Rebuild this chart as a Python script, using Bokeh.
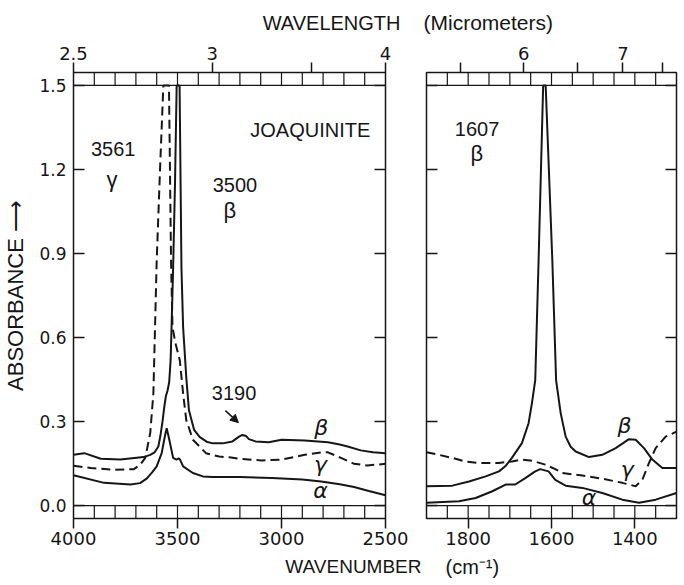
import numpy as np
from bokeh.plotting import figure
from bokeh.layouts import row
from bokeh.models import (Range1d, LinearAxis, FixedTicker, CustomJSTickFormatter,
                          Arrow, NormalHead, Span, NumeralTickFormatter, Title)
from bokeh.embed import file_html
from bokeh.resources import INLINE
from bokeh.core.properties import value

# ---------------- data ----------------
# Left panel: 4000-2500 cm-1
L_beta_wn = [4000, 3948, 3869, 3774, 3663, 3631, 3610, 3592, 3582, 3571, 3564, 3556, 3548, 3540,
             3533, 3527, 3521, 3512, 3504, 3490, 3481, 3473, 3458, 3445, 3420, 3394, 3360, 3331,
             3283, 3236, 3204, 3188, 3170, 3157, 3125, 3062, 2999, 2888, 2777, 2720, 2682, 2619,
             2560, 2500]
L_beta = [0.181, 0.187, 0.167, 0.164, 0.173, 0.181, 0.19, 0.211, 0.25, 0.306, 0.35, 0.39, 0.41, 0.44,
          0.52, 0.68, 0.85, 1.15, 1.5, 1.5, 0.85, 0.637, 0.46, 0.34, 0.27, 0.245, 0.228, 0.222,
          0.222, 0.229, 0.246, 0.252, 0.248, 0.237, 0.229, 0.226, 0.235, 0.232, 0.226, 0.218, 0.211, 0.197,
          0.19, 0.187]

L_gamma_wn = [4000, 3916, 3805, 3710, 3679, 3655, 3631, 3616, 3608, 3600, 3584, 3568, 3541, 3531,
              3524, 3510, 3489, 3473, 3458, 3426, 3363, 3300, 3250, 3188, 3094, 2999, 2888, 2809,
              2777, 2745, 2714, 2651, 2587, 2500]
L_gamma = [0.142, 0.134, 0.128, 0.13, 0.146, 0.17, 0.259, 0.40, 0.637, 0.875, 1.2, 1.5, 1.5, 0.87,
           0.637, 0.58, 0.519, 0.40, 0.306, 0.235, 0.187, 0.175, 0.172, 0.166, 0.161, 0.164, 0.181, 0.19,
           0.19, 0.18, 0.17, 0.149, 0.143, 0.149]

L_alpha_wn = [4000, 3853, 3726, 3680, 3647, 3620, 3600, 3576, 3560, 3552, 3544, 3536, 3521, 3505,
              3495, 3489, 3473, 3426, 3378, 3331, 3200, 3046, 2900, 2809, 2720, 2651, 2580, 2500]
L_alpha = [0.108, 0.081, 0.075, 0.08, 0.097, 0.12, 0.14, 0.187, 0.25, 0.276, 0.25, 0.223, 0.17, 0.164,
           0.168, 0.166, 0.14, 0.116, 0.104, 0.102, 0.102, 0.098, 0.093, 0.086, 0.076, 0.066, 0.052, 0.037]

# Right panel: 1900-1300 cm-1
R_beta_wn = [1900, 1838, 1798, 1758, 1726, 1711, 1695, 1671, 1655, 1647, 1639, 1631, 1620, 1614,
             1598, 1589, 1578, 1566, 1554, 1542, 1510, 1478, 1446, 1414, 1398, 1378, 1358, 1334, 1300]
R_beta = [0.069, 0.071, 0.086, 0.104, 0.122, 0.14, 0.17, 0.223, 0.294, 0.365, 0.448, 0.875, 1.5, 1.5,
          0.875, 0.448, 0.33, 0.246, 0.21, 0.193, 0.173, 0.181, 0.205, 0.237, 0.235, 0.205, 0.164, 0.134, 0.134]

R_gamma_wn = [1900, 1870, 1838, 1806, 1774, 1727, 1695, 1671, 1647, 1615, 1591, 1574, 1526, 1478,
              1430, 1398, 1382, 1366, 1350, 1326, 1300]
R_gamma = [0.19, 0.181, 0.17, 0.157, 0.152, 0.152, 0.157, 0.164, 0.16, 0.146, 0.13, 0.116, 0.107, 0.096,
           0.081, 0.069, 0.092, 0.152, 0.205, 0.246, 0.264]

R_alpha_wn = [1900, 1822, 1782, 1742, 1710, 1687, 1663, 1639, 1627, 1607, 1591, 1566, 1526, 1478,
              1430, 1390, 1350, 1300]
R_alpha = [0.01, 0.015, 0.027, 0.051, 0.075, 0.075, 0.098, 0.122, 0.13, 0.122, 0.092, 0.071, 0.063, 0.045,
           0.021, 0.01, 0.021, 0.045]

# axes
Y_TICKS = [0.0, 0.3, 0.6, 0.9, 1.2, 1.5]
L_WN_TICKS = [4000, 3500, 3000, 2500]
R_WN_TICKS = [1800, 1600, 1400]
L_WL_TICKS = [2.5, 3.0, 3.5, 4.0]
L_WL_LABELS = ["2.5", "3", "", "4"]
R_WL_TICKS = [5.5, 6.0, 6.5, 7.0, 7.5]
R_WL_LABELS = ["", "6", "", "7", ""]

# annotations (label text, wavenumber, absorbance of the label centre)
L_notes = ["3561", "3500", "3190", "JOAQUINITE"]
L_notes_x = [3916, 3331, 3335, 3150]
L_notes_y = [1.272, 1.143, 0.401, 1.340]
L_greek = ["γ", "β"]
L_greek_x = [3815, 3248]
L_greek_y = [1.166, 1.054]
R_notes = ["1607"]
R_notes_x = [1832]
R_notes_y = [1.343]
R_greek = ["β"]
R_greek_x = [1779]
R_greek_y = [1.256]
L_curve_lbl = ["β", "γ", "α"]
L_curve_lbl_x = [2809, 2813, 2813]
L_curve_lbl_y = [0.279, 0.148, 0.052]
R_curve_lbl = ["β", "γ", "α"]
R_curve_lbl_x = [1425, 1418, 1510]
R_curve_lbl_y = [0.286, 0.128, 0.028]

INK = "#161616"
TICK_FONT = "DejaVu Sans"
TXT_FONT = "Liberation Sans"
Y0, Y1 = -0.0463, 1.5463
H = 585


def panel(xr, width, mbl, mbr, cell_step, wn_ticks, wl_ticks, wl_labels, show_ylabels):
    p = figure(width=width, height=H, x_range=Range1d(*xr), y_range=Range1d(Y0, Y1),
               output_backend="svg", toolbar_location=None,
               min_border_left=mbl, min_border_right=mbr, min_border_top=72, min_border_bottom=65)
    p.grid.visible = False
    p.outline_line_color = INK
    p.outline_line_width = 1.5
    p.background_fill_color = "white"
    p.border_fill_color = "white"

    xa = p.xaxis[0]
    xa.ticker = FixedTicker(ticks=wn_ticks)
    xa.major_tick_in = 0
    xa.major_tick_out = 10
    xa.minor_tick_line_color = None
    xa.axis_line_color = None
    xa.major_tick_line_color = INK
    xa.major_tick_line_width = 1.5
    xa.major_label_standoff = 3
    xa.major_label_text_font = TICK_FONT
    xa.major_label_text_font_size = "18px"
    xa.major_label_text_color = INK

    ya = p.yaxis[0]
    ya.ticker = FixedTicker(ticks=Y_TICKS)
    ya.major_tick_in = 11
    ya.major_tick_out = 0
    ya.minor_tick_line_color = None
    ya.axis_line_color = None
    ya.major_tick_line_color = INK
    ya.major_tick_line_width = 1.5
    ya.major_label_text_font = TICK_FONT
    ya.major_label_text_font_size = "17px"
    ya.major_label_text_color = INK
    if show_ylabels:
        ya.formatter = NumeralTickFormatter(format="0.0")
        ya.major_label_standoff = 7
        ya.axis_label = "ABSORBANCE ⟶"
        ya.axis_label_text_font = TXT_FONT
        ya.axis_label_text_font_size = "22px"
        ya.axis_label_text_font_style = "normal"
        ya.axis_label_text_color = INK
        ya.axis_label_standoff = 8
    else:
        ya.formatter = CustomJSTickFormatter(code="return ''")
        ya.major_label_standoff = 0

    ra = LinearAxis(ticker=FixedTicker(ticks=Y_TICKS), formatter=CustomJSTickFormatter(code="return ''"),
                    major_tick_in=11, major_tick_out=0, major_label_standoff=0,
                    minor_tick_line_color=None, axis_line_color=None,
                    major_tick_line_color=INK, major_tick_line_width=1.5)
    p.add_layout(ra, "right")

    wl_wn = [1e4 / w for w in wl_ticks]
    fmt = CustomJSTickFormatter(args=dict(wl_pos=wl_wn, wl_lab=wl_labels), code="""
        let best = 0, d = Infinity;
        for (let i = 0; i < wl_pos.length; i++) {
            const dd = Math.abs(wl_pos[i] - tick);
            if (dd < d) { d = dd; best = i; }
        }
        return wl_lab[best];
    """)
    ta = LinearAxis(ticker=FixedTicker(ticks=wl_wn), formatter=fmt,
                    major_tick_in=0, major_tick_out=10, major_label_standoff=3,
                    minor_tick_line_color=None, axis_line_color=None,
                    major_tick_line_color=INK, major_tick_line_width=1.5,
                    major_label_text_font=TICK_FONT, major_label_text_font_size="18px",
                    major_label_text_color=INK)
    p.add_layout(ta, "above")

    # ruled strips along top and bottom
    lo, hi = min(xr), max(xr)
    cells = np.arange(lo + cell_step, hi, cell_step)
    p.segment(x0=cells, y0=1.5, x1=cells, y1=Y1, line_color=INK, line_width=1.2)
    p.segment(x0=cells, y0=Y0, x1=cells, y1=0.0, line_color=INK, line_width=1.2)
    p.add_layout(Span(location=0.0, dimension="width", line_color=INK, line_width=1.3))
    p.add_layout(Span(location=1.5, dimension="width", line_color=INK, line_width=1.3))
    return p


left = panel((4000, 2500), 422, 69, 37, 100, L_WN_TICKS, L_WL_TICKS, L_WL_LABELS, True)
right = panel((1900, 1300), 262, 4, 8, 50, R_WN_TICKS, R_WL_TICKS, R_WL_LABELS, False)

# spectra
left.line(L_beta_wn, L_beta, line_color=INK, line_width=2)
left.line(L_gamma_wn, L_gamma, line_color=INK, line_width=2, line_dash="9 5")
left.line(L_alpha_wn, L_alpha, line_color=INK, line_width=2)
right.line(R_beta_wn, R_beta, line_color=INK, line_width=2)
right.line(R_gamma_wn, R_gamma, line_color=INK, line_width=2, line_dash="9 5")
right.line(R_alpha_wn, R_alpha, line_color=INK, line_width=2)

# annotations
left.text(x=L_notes_x, y=L_notes_y, text=L_notes, text_font=value(TXT_FONT), text_font_size="20px",
          text_color=INK, text_align="left", text_baseline="middle")
left.text(x=L_greek_x, y=L_greek_y, text=L_greek, text_font=value(TXT_FONT), text_font_size="22px",
          text_color=INK, text_align="center", text_baseline="middle")
right.text(x=R_notes_x, y=R_notes_y, text=R_notes, text_font=value(TXT_FONT), text_font_size="20px",
           text_color=INK, text_align="left", text_baseline="middle")
right.text(x=R_greek_x, y=R_greek_y, text=R_greek, text_font=value(TXT_FONT), text_font_size="22px",
           text_color=INK, text_align="center", text_baseline="middle")
left.text(x=L_curve_lbl_x, y=L_curve_lbl_y, text=L_curve_lbl, text_font=value("DejaVu Sans"),
          text_font_size="22px", text_font_style="italic", text_color=INK,
          text_align="center", text_baseline="middle")
right.text(x=R_curve_lbl_x, y=R_curve_lbl_y, text=R_curve_lbl, text_font=value("DejaVu Sans"),
           text_font_size="22px", text_font_style="italic", text_color=INK,
           text_align="center", text_baseline="middle")
left.add_layout(Arrow(end=NormalHead(size=8, fill_color=INK, line_color=INK),
                      x_start=3270, y_start=0.339, x_end=3207, y_end=0.296,
                      line_color=INK, line_width=1.5))


# shared axis titles, split across the two panels
def set_title(t, text, align, offset, size, standoff):
    t.text = text
    t.align = align
    t.offset = offset
    t.standoff = standoff
    t.vertical_align = "middle"
    t.text_font = TXT_FONT
    t.text_font_size = size
    t.text_font_style = "normal"
    t.text_color = INK


set_title(left.title, "WAVELENGTH", "right", -15, "20px", 18)
set_title(right.title, "(Micrometers)", "left", -3, "21px", 18)
bl = Title()
set_title(bl, "WAVENUMBER", "right", -36, "19px", 14)
left.add_layout(bl, "below")
br = Title()
set_title(br, "(cm⁻¹)", "left", 19, "20px", 14)
right.add_layout(br, "below")

layout = row(left, right)
open("out.html", "w").write(file_html(layout, INLINE))
